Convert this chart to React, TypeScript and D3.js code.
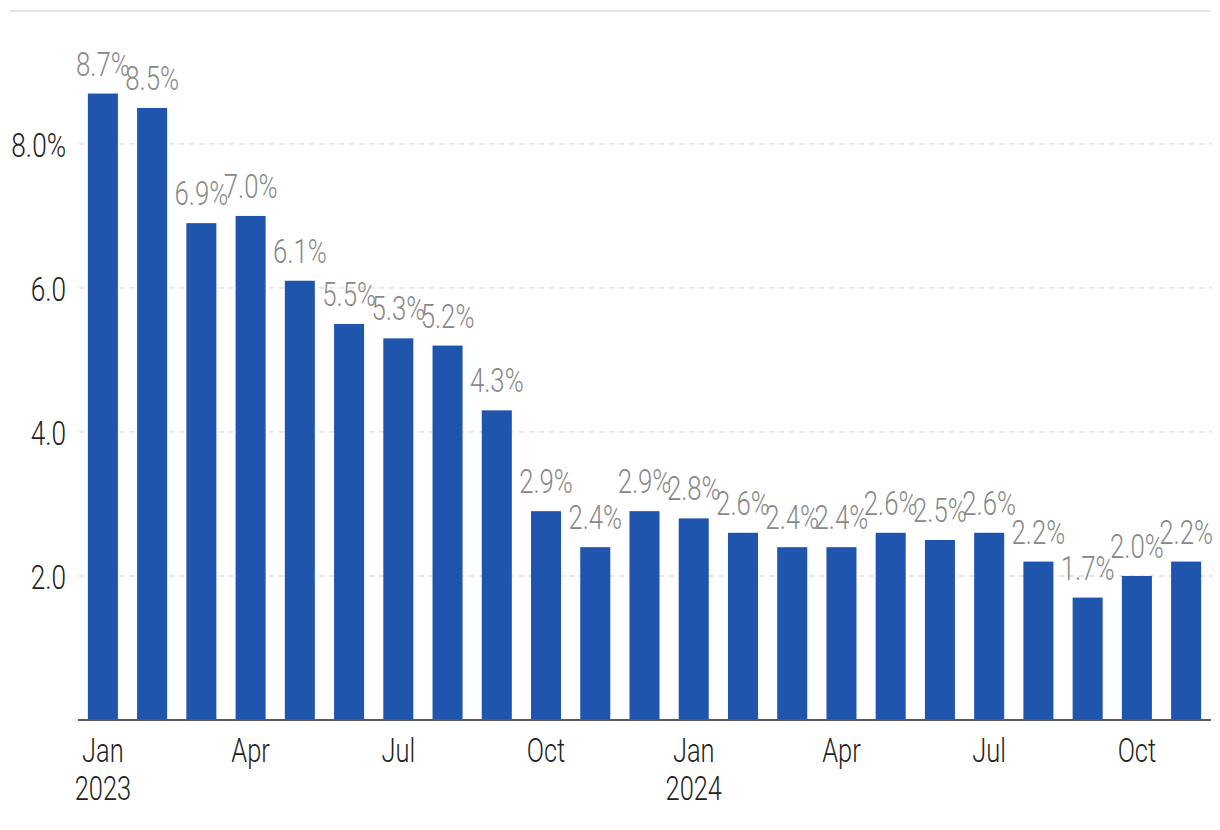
import React from 'react';
import * as d3 from 'd3';

const months = [
  'Jan 2023', 'Feb 2023', 'Mar 2023', 'Apr 2023', 'May 2023', 'Jun 2023',
  'Jul 2023', 'Aug 2023', 'Sep 2023', 'Oct 2023', 'Nov 2023', 'Dec 2023',
  'Jan 2024', 'Feb 2024', 'Mar 2024', 'Apr 2024', 'May 2024', 'Jun 2024',
  'Jul 2024', 'Aug 2024', 'Sep 2024', 'Oct 2024', 'Nov 2024',
];
const values = [8.7, 8.5, 6.9, 7.0, 6.1, 5.5, 5.3, 5.2, 4.3, 2.9, 2.4, 2.9, 2.8, 2.6, 2.4, 2.4, 2.6, 2.5, 2.6, 2.2, 1.7, 2.0, 2.2];
const yTicks = [2, 4, 6, 8];
const xTicks = [
  { idx: 0, line1: 'Jan', line2: '2023' },
  { idx: 3, line1: 'Apr', line2: '' },
  { idx: 6, line1: 'Jul', line2: '' },
  { idx: 9, line1: 'Oct', line2: '' },
  { idx: 12, line1: 'Jan', line2: '2024' },
  { idx: 15, line1: 'Apr', line2: '' },
  { idx: 18, line1: 'Jul', line2: '' },
  { idx: 21, line1: 'Oct', line2: '' },
];

const W = 1220;
const H = 830;
const FONT = 'Roboto, "Liberation Sans", sans-serif';

// condensed-looking text: squeeze horizontally around the anchor point
function Txt({ x, y, anchor, size, fill, squeeze = 0.77, children }: any) {
  return (
    <g transform={`translate(${x},${y}) scale(${squeeze},1)`}>
      <text textAnchor={anchor} fontSize={size} fill={fill} fontFamily={FONT} fontWeight={300}>
        {children}
      </text>
    </g>
  );
}

export default function App() {
  const x = d3.scaleBand<number>()
    .domain(d3.range(values.length))
    .range([79, 1210])
    .paddingInner(0.39)
    .paddingOuter(0.18);

  const y = d3.scaleLinear().domain([0, 9.86]).range([720, 10]);
  const fmt = d3.format('.1f');

  return (
    <svg width={W} height={H} style={{ position: 'absolute', left: 0, top: 0, background: '#fff' }}>
      {/* top border */}
      <line x1={10} x2={1210} y1={11} y2={11} stroke="#e3e3e3" strokeWidth={2} />

      {/* gridlines */}
      {yTicks.map((t) => (
        <line key={t} x1={79} x2={1212} y1={y(t)} y2={y(t)} stroke="#dcdcdc" strokeWidth={1.3} strokeDasharray="5,5" />
      ))}

      {/* y labels */}
      {yTicks.map((t) => (
        <Txt key={t} x={66} y={y(t) + 13} anchor="end" size={34} fill="#222">
          {fmt(t) + (t === 8 ? '%' : '')}
        </Txt>
      ))}

      {/* bars */}
      {values.map((v, i) => (
        <rect key={months[i]} x={x(i)} y={y(v)} width={x.bandwidth()} height={y(0) - y(v)} fill="#2055ae" />
      ))}

      {/* baseline */}
      <line x1={78} x2={1211} y1={y(0)} y2={y(0)} stroke="#595959" strokeWidth={2} />

      {/* value labels */}
      {values.map((v, i) => (
        <Txt key={months[i]} x={x(i)! + x.bandwidth() / 2} y={y(v) - 18} anchor="middle" size={33} squeeze={0.78} fill="#888888">
          {fmt(v) + '%'}
        </Txt>
      ))}

      {/* x labels */}
      {xTicks.map((t) => (
        <g key={t.idx}>
          <Txt x={x(t.idx)! + x.bandwidth() / 2} y={762} anchor="middle" size={33} fill="#222">
            {t.line1}
          </Txt>
          {t.line2 && (
            <Txt x={x(t.idx)! + x.bandwidth() / 2} y={800} anchor="middle" size={33} fill="#222">
              {t.line2}
            </Txt>
          )}
        </g>
      ))}
    </svg>
  );
}
